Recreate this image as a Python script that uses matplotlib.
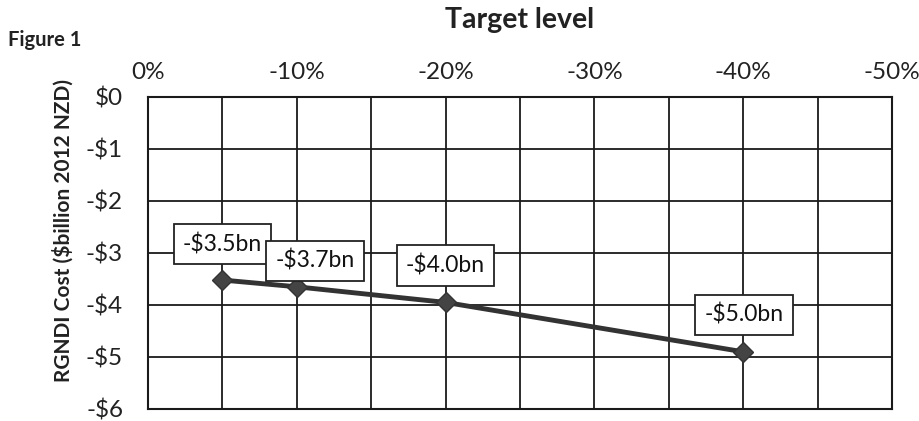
import matplotlib
matplotlib.use("Agg")
import matplotlib.pyplot as plt
from matplotlib.ticker import MultipleLocator, FuncFormatter

plt.rcParams['font.family'] = ['Lato', 'DejaVu Sans']

# Data
target_pct = [-5, -10, -20, -40]
cost_bn = [-3.52, -3.65, -3.95, -4.9]
point_labels = ["-$3.5bn", "-$3.7bn", "-$4.0bn", "-$5.0bn"]
x_ticks = [0, -10, -20, -30, -40, -50]
y_ticks = [0, -1, -2, -3, -4, -5, -6]

fig = plt.figure(figsize=(9.19, 4.21), dpi=100)
ax = fig.add_axes([148/919, 1-409/421, (892-148)/919, (409-97)/421])

ax.set_xlim(0, -50)
ax.set_ylim(-6, 0)

ax.set_xticks(x_ticks)
ax.xaxis.set_minor_locator(MultipleLocator(5))
ax.set_yticks(y_ticks)
ax.xaxis.set_major_formatter(FuncFormatter(lambda v, p: f"{int(round(v))}%" if v != 0 else "0%"))
ax.yaxis.set_major_formatter(FuncFormatter(lambda v, p: "$0" if round(v) == 0 else f"-${abs(int(round(v)))}"))
ax.xaxis.tick_top()
ax.tick_params(axis='x', which='both', length=0, pad=10, labelsize=17.5, colors='#222222')
ax.tick_params(axis='y', which='both', length=0, pad=18, labelsize=17.5, colors='#222222')

ax.grid(True, which='both', color='#1a1a1a', linewidth=1.3)
ax.set_axisbelow(True)
for s in ax.spines.values():
    s.set_color('#1a1a1a')
    s.set_linewidth(1.5)

ax.plot(target_pct, cost_bn, color='#333333', linewidth=3.5, marker='D',
        markersize=10, markerfacecolor='#444444', markeredgecolor='#333333', zorder=3)

offsets = [(0, 36), (18, 26), (0, 37), (1, 37)]
for x, y, lab, off in zip(target_pct, cost_bn, point_labels, offsets):
    ax.annotate(lab, (x, y), xytext=off, textcoords='offset pixels',
                ha='center', va='center', fontsize=16.5, color='#111111',
                bbox=dict(boxstyle='square,pad=0.4', fc='white', ec='#222222', lw=1.3),
                zorder=4)

fig.text(520/919, 1-20/421, "Target level", ha='center', va='center',
         fontsize=20.5, fontweight='bold', color='#222222')
fig.text(8/919, 1-40/421, "Figure 1", ha='left', va='center',
         fontsize=14.5, fontweight='bold', color='#222222')
fig.text(63/919, 1-230/421, "RGNDI Cost ($billion 2012 NZD)", ha='center', va='center',
         rotation=90, fontsize=15, fontweight='bold', color='#222222')

fig.savefig("out.png", dpi=100)
